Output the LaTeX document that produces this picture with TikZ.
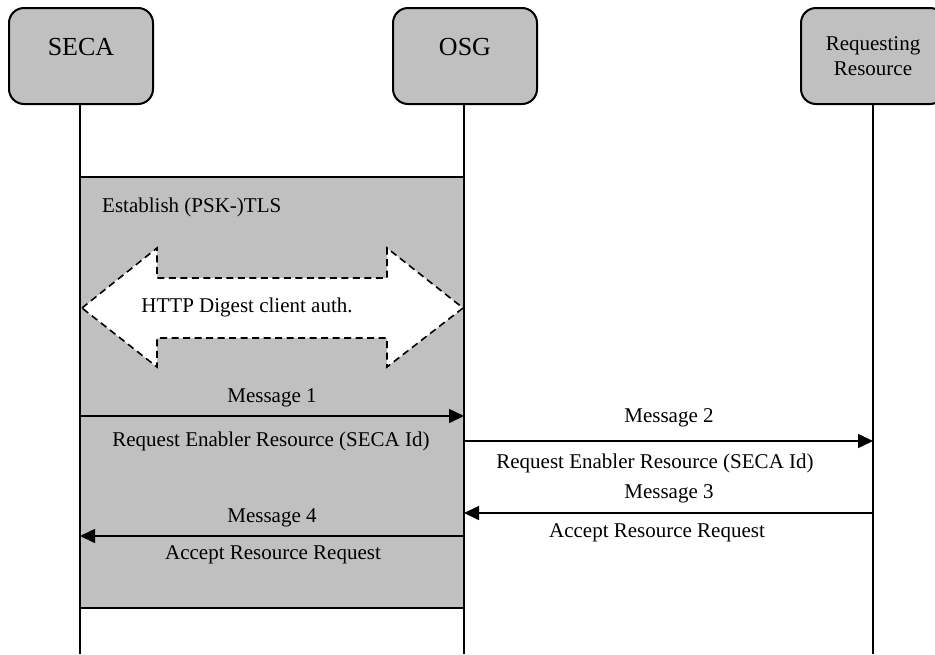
\documentclass[tikz,border=0pt]{standalone}
\usepackage{fontspec}
\setmainfont{Liberation Serif}
\usetikzlibrary{arrows.meta,positioning}
\definecolor{boxgray}{RGB}{192,192,192}
\tikzset{
    %Define standard arrow tip
    >={Triangle[length=15pt,width=14pt]},
    %Define style for actor boxes
    actornode/.style={
             rectangle, rounded corners=15pt,
             draw=black, line width=2pt, fill=boxgray,
             minimum width=144pt, minimum height=96pt,
             inner sep=0pt},
    titletext/.style={
             font=\fontsize{26}{28}\selectfont,
             text height=17pt, text depth=18pt},
    msgtext/.style={
             font=\fontsize{21}{22}\selectfont,
             text height=14pt, text depth=4pt,
             inner sep=0pt},
    % Define line styles
    lifeline/.style={
            line width=2pt},
    msgarrow/.style={
            ->,
            line width=1.6pt},
    authshape/.style={
            draw=black, fill=white,
            line width=1.6pt,
            dash pattern=on 7pt off 4.5pt}
}
\begin{document}
\begin{tikzpicture}[x=1pt, y=-1pt]
    \useasboundingbox (0,0) rectangle (935,654);
    % session region
    \draw[fill=boxgray, line width=2pt] (80,177) rectangle (464,608);
    % actors
    \node[actornode, titletext] (seca) at (81,56) {SECA};
    \node[actornode, titletext] (osg) at (465,56) {OSG};
    \node[actornode, align=center, font=\fontsize{21}{25}\selectfont] (req) at (873,56) {Requesting\\Resource};
    \coordinate (secaend) at (80,654);
    \coordinate (osgend) at (464,654);
    \coordinate (reqend) at (873,654);
    \draw[lifeline] (80,104) -- (secaend);
    \draw[lifeline] (464,104) -- (osgend);
    \draw[lifeline] (873,104) -- (reqend);
    \node[msgtext, anchor=west] (tls) at (102,207) {Establish (PSK-)TLS};
    % double arrow
    \draw[authshape] (82,308) -- (157,248) -- (157,278) -- (387,278) -- (387,248)
        -- (463,308) -- (387,367) -- (387,338) -- (157,338) -- (157,367) -- cycle;
    \node[msgtext] (auth) at (247,307) {HTTP Digest client auth.};
    % messages
    \coordinate (m1from) at (80,416);
    \coordinate (m1to) at (464,416);
    \coordinate (m2from) at (464,441);
    \coordinate (m2to) at (873,441);
    \coordinate (m3from) at (873,513);
    \coordinate (m3to) at (464,513);
    \coordinate (m4from) at (464,536);
    \coordinate (m4to) at (80,536);
    \node[msgtext] (m1) at (272,397) {Message 1};
    \node[msgtext] (m1req) at (271,441) {Request Enabler Resource (SECA Id)};
    \node[msgtext] (m2) at (669,417) {Message 2};
    \node[msgtext] (m2req) at (655,463) {Request Enabler Resource (SECA Id)};
    \node[msgtext] (m3) at (669,493) {Message 3};
    \node[msgtext] (m3acc) at (657,532) {Accept Resource Request};
    \node[msgtext] (m4) at (272,517) {Message 4};
    \node[msgtext] (m4acc) at (273,554) {Accept Resource Request};
    \draw[msgarrow] (m1from) -- (m1to);
    \draw[msgarrow] (m2from) -- (m2to);
    \draw[msgarrow] (m3from) -- (m3to);
    \draw[msgarrow] (m4from) -- (m4to);
\end{tikzpicture}
\end{document}
